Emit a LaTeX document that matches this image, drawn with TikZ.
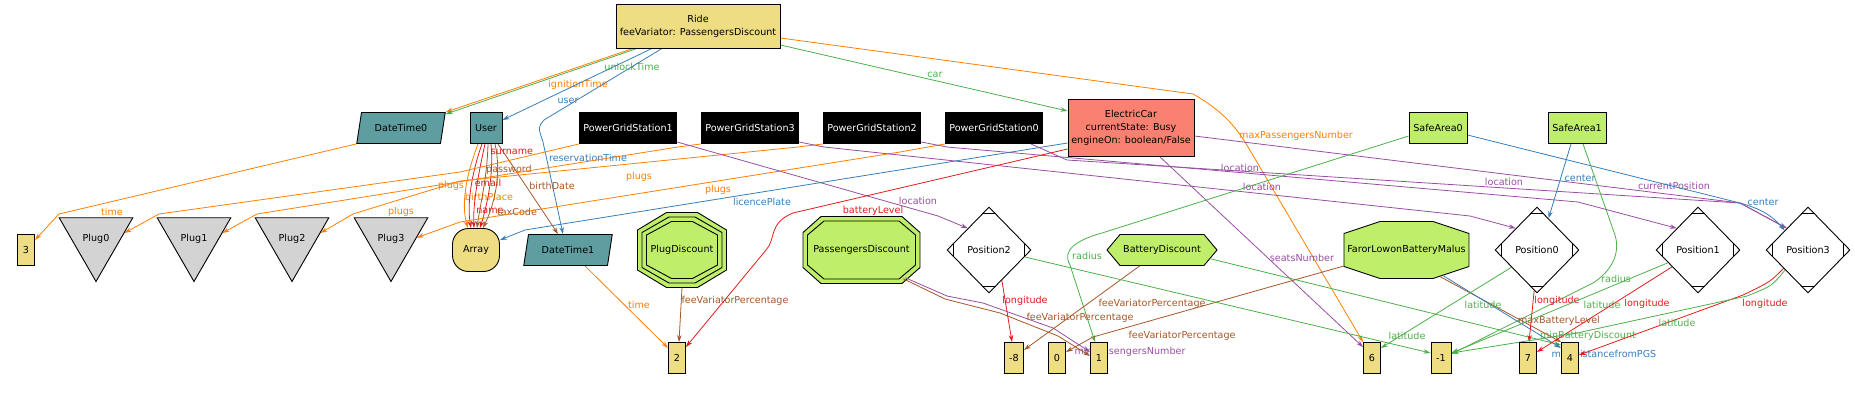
\documentclass[tikz,border=0pt]{standalone}
\usepackage{fontspec}
\setmainfont{DejaVu Sans}
\usetikzlibrary{calc}
\usetikzlibrary{arrows.meta}
\usetikzlibrary{shapes.geometric}
\definecolor{khaki}{HTML}{EEDD82}
\definecolor{cadet}{HTML}{5F9EA0}
\definecolor{salmon}{HTML}{FA8072}
\definecolor{leaf}{HTML}{BFEE6A}
\definecolor{pluggray}{HTML}{D3D3D3}
\definecolor{eorange}{HTML}{FF7F00}
\definecolor{egreen}{HTML}{4DAF4A}
\definecolor{eblue}{HTML}{377EB8}
\definecolor{ered}{HTML}{E41A1C}
\definecolor{epurple}{HTML}{984EA3}
\definecolor{ebrown}{HTML}{A65628}
\pgfdeclarelayer{back}
\pgfdeclarelayer{wires}
\pgfsetlayers{back,wires,main}
\newcommand{\objfont}{\fontsize{9.6}{13}\selectfont}
% style, node, half width, half height, x cut, y cut
\newcommand{\octagon}[6]{%
  \draw[#1, shift={(#2)}] (-#3+#5,-#4) -- (#3-#5,-#4) -- (#3,-#4+#6) -- (#3,#4-#6)
    -- (#3-#5,#4) -- (-#3+#5,#4) -- (-#3,#4-#6) -- (-#3,-#4+#6) -- cycle;}
\newcommand{\mdmarks}[1]{%
  \draw[line width=0.9pt] ($(#1.north)+(-7,7)$) -- ($(#1.north)+(7,7)$);
  \draw[line width=0.9pt] ($(#1.south)+(-7,-7)$) -- ($(#1.south)+(7,-7)$);
  \draw[line width=0.9pt] ($(#1.west)+(7,-7)$) -- ($(#1.west)+(7,7)$);
  \draw[line width=0.9pt] ($(#1.east)+(-7,-7)$) -- ($(#1.east)+(-7,7)$);}
\tikzset{
  obj/.style={draw, line width=0.9pt, inner sep=0pt, minimum height=31pt, font=\objfont},
  val/.style={obj, fill=khaki, minimum width=17pt},
  pgs/.style={obj, fill=black, text=white, minimum width=97pt},
  area/.style={obj, fill=leaf, minimum width=58pt},
  stamp/.style={obj, fill=cadet, trapezium, trapezium left angle=67, trapezium right angle=113,
    trapezium stretches=true, minimum width=89pt},
  plug/.style={obj, fill=pluggray, regular polygon, regular polygon sides=3,
    shape border rotate=180, minimum size=85pt},
  spot/.style={obj, fill=white, diamond, minimum width=84pt, minimum height=86pt},
  disc/.style={inner sep=0pt, font=\objfont},
  wire/.style={line width=0.8pt, -{Stealth[length=7pt,width=4.5pt]}},
  lbl/.style={inner sep=0pt, font=\objfont},
}

\begin{document}
\begin{tikzpicture}[x=1pt, y=-1pt]
  \useasboundingbox (0,0) rectangle (1855,418);

  % top row
  \node[obj, fill=khaki, minimum width=164pt, minimum height=44pt, align=center] (ride) at (698,26) {Ride\\feeVariator: PassengersDiscount};
  \node[stamp] (dt0) at (401,128) {DateTime0};
  \node[obj, fill=cadet, minimum width=32pt] (user) at (486,128) {User};
  \node[pgs] (pgs1) at (628,128) {PowerGridStation1};
  \node[pgs] (pgs3) at (750,128) {PowerGridStation3};
  \node[pgs] (pgs2) at (872,128) {PowerGridStation2};
  \node[pgs] (pgs0) at (994,128) {PowerGridStation0};
  \node[obj, fill=salmon, minimum width=126pt, minimum height=57pt, align=center] (car) at (1131,128) {ElectricCar\\currentState: Busy\\engineOn: boolean/False};
  \node[area] (sa0) at (1438,128) {SafeArea0};
  \node[area] (sa1) at (1577,128) {SafeArea1};

  % middle row
  \node[val] (n3) at (26,250) {3};
  \node[plug] (plug0) at (96,239) {Plug0};
  \node[plug] (plug1) at (194,239) {Plug1};
  \node[plug] (plug2) at (292,239) {Plug2};
  \node[plug] (plug3) at (391,239) {Plug3};
  \node[obj, fill=khaki, rounded corners=16pt, minimum width=47pt, minimum height=43pt] (arr) at (476,250) {Array};
  \node[stamp] (dt1) at (568,250) {DateTime1};
  \node[disc, minimum width=89pt, minimum height=75pt] (pdisc) at (682,250) {PlugDiscount};
  \node[disc, minimum width=117pt, minimum height=67pt] (pgdisc) at (861.5,250) {PassengersDiscount};
  \node[spot] (pos2) at (989,250) {Position2};
  \node[disc, minimum width=110pt, minimum height=31pt] (bdisc) at (1162,250) {BatteryDiscount};
  \node[disc, minimum width=125pt, minimum height=57pt] (malus) at (1406.5,250) {FarorLowonBatteryMalus};
  \node[spot] (pos0) at (1537,250) {Position0};
  \node[spot] (pos1) at (1698,250) {Position1};
  \node[spot] (pos3) at (1808,250) {Position3};
  \mdmarks{pos0}
  \mdmarks{pos1}
  \mdmarks{pos2}
  \mdmarks{pos3}

  % bottom row
  \node[val] (n2) at (677,358) {2};
  \node[val, minimum width=19pt] (nm8) at (1014,358) {-8};
  \node[val] (n0) at (1057,358) {0};
  \node[val] (n1) at (1099,358) {1};
  \node[val] (n6) at (1372,358) {6};
  \node[val, minimum width=20pt] (nm1) at (1441,358) {-1};
  \node[val] (n7) at (1528,358) {7};
  \node[val] (n4) at (1570,358) {4};

  % discount outlines
  \begin{pgfonlayer}{back}
    \octagon{fill=leaf, line width=0.9pt}{pdisc}{44.5}{37.5}{29}{17.5}
    \octagon{line width=0.9pt}{pdisc}{40}{33}{27}{15.5}
    \octagon{line width=0.9pt}{pdisc}{35.5}{28.5}{25}{13.5}
    \octagon{fill=leaf, line width=0.9pt}{pgdisc}{58.5}{33.5}{18}{16}
    \octagon{line width=0.9pt}{pgdisc}{54}{29}{16.5}{14}
    \octagon{fill=leaf, line width=0.9pt}{malus}{62.5}{28.5}{36}{12}
    \draw[fill=leaf, line width=0.9pt, shift={(bdisc)}] (-55,0) -- (-42,-15.5) -- (42,-15.5) -- (55,0) -- (42,15.5) -- (-42,15.5) -- cycle;
  \end{pgfonlayer}

  \begin{pgfonlayer}{wires}
    % Ride
    \draw[wire, eorange] ([xshift=-65pt]ride.south) -- (dt0.top right corner) node[lbl] at (578,85) {ignitionTime};
    \draw[wire, egreen] ([xshift=-61pt]ride.south) -- ([yshift=-2pt]dt0.top right corner) node[lbl] at (632,67) {unlockTime};
    \draw[wire, eblue] ([xshift=-46pt]ride.south) -- ([yshift=8pt]user.east) node[lbl] at (568,101) {user};
    \draw[wire, eblue] ([xshift=-36pt]ride.south) -- (544,120) .. controls (538,127) .. (543,142) -- ([xshift=-5pt]dt1.north) node[lbl] at (588,158) {reservationTime};
    \draw[wire, egreen] ([yshift=-19pt]ride.east) -- ([yshift=17pt]car.west) node[lbl] at (935,75) {car};
    \draw[wire, eorange] ([yshift=-12pt]ride.east) -- (1193,94) .. controls (1225,112) and (1238,130) .. (1248,147) -- (n6.north west) node[lbl] at (1296,136) {maxPassengersNumber};

    % DateTime
    \draw[wire, eorange] (dt0.bottom left corner) -- (59,214) -- ([yshift=10pt]n3.east) node[lbl] at (112,212) {time};
    \draw[wire, eorange] ([xshift=17pt]dt1.south) -- ([yshift=10pt]n2.west) node[lbl] at (639,305) {time};

    % User
    \draw[wire, eorange] ([xshift=-8pt]user.south) .. controls (466,175) and (461,205) .. ([xshift=-8pt]arr.north) node[lbl] at (489,197) {birthPlace};
    \draw[wire, ered] ([xshift=-4pt]user.south) .. controls (471,175) and (467,205) .. ([xshift=-5pt]arr.north) node[lbl] at (512,152) {surname};
    \draw[wire, ered] ([xshift=-1pt]user.south) .. controls (477,180) and (473,205) .. ([xshift=-2pt]arr.north) node[lbl] at (488,183) {email};
    \draw[wire, ebrown] ([xshift=2pt]user.south) .. controls (487,180) and (480,205) .. ([xshift=1pt]arr.north) node[lbl] at (509,170) {password};
    \draw[wire, ered] ([xshift=5pt]user.south) .. controls (494,175) and (487,205) .. ([xshift=4pt]arr.north) node[lbl] at (490,211) {name};
    \draw[wire, ebrown] ([xshift=9pt]user.south) .. controls (502,175) and (494,205) .. ([xshift=7pt]arr.north) node[lbl] at (517,212) {taxCode};
    \draw[wire, ebrown] ([xshift=12pt]user.south) -- ([xshift=-10pt]dt1.north) node[lbl] at (552,186) {birthDate};

    % plugs
    \draw[wire, eorange] (pgs1.south west) -- (460,172) -- (159,214) -- (plug0.12) node[lbl] at (451,186) {plugs};
    \draw[wire, eorange] (pgs3.south west) -- (678,147) -- (257,214) -- (plug1.12) node[lbl] at (639,177) {plugs};
    \draw[wire, eorange] (pgs2.south west) -- (798,147) -- (460,181) -- (353,214) -- (plug2.12) node[lbl] at (718,190) {plugs};
    \draw[wire, eorange] (pgs0.south west) -- (900,152) -- (460,222) -- (plug3.3) node[lbl] at (401,212) {plugs};

    % locations
    \draw[wire, epurple] ([yshift=2pt]pgs1.south east) -- (938,216) -- (pos2.north west) node[lbl] at (918,201) {location};
    \draw[wire, epurple] ([yshift=2pt]pgs3.south east) -- (824,147) -- (1470,216) -- (pos0.north west) node[lbl] at (1262,187) {location};
    \draw[wire, epurple] ([yshift=2pt]pgs2.south east) -- (947,147) -- (1578,202) -- (pos1.north west) node[lbl] at (1504,182) {location};
    \draw[wire, epurple] ([xshift=-12pt]pgs0.south east) -- (1067,160) -- (1740,203) -- (pos3.north west) node[lbl] at (1240,168) {location};

    % ElectricCar
    \draw[wire, epurple] ([yshift=-8pt]car.east) -- (1740,203) -- (pos3.north west) node[lbl] at (1674,186) {currentPosition};
    \draw[wire, epurple] ([xshift=29pt]car.south) -- ([yshift=-5pt]n6.north west) node[lbl] at (1302,258) {seatsNumber};
    \draw[wire, eblue] ([yshift=-15pt]car.west) -- (525,230) -- ([yshift=10pt]arr.east) node[lbl] at (762,202) {licencePlate};
    \draw[wire, ered] ([yshift=-21pt]car.west) -- (793,213) .. controls (768,223) and (776,240) .. (766,250) -- ([yshift=11pt]n2.east) node[lbl] at (873,211) {batteryLevel};

    % SafeArea
    \draw[wire, egreen] ([yshift=-8pt]sa0.west) -- (1102,233) .. controls (1062,244) and (1066,258) .. (1070,265) -- ([xshift=-4pt]n1.north) node[lbl] at (1087,256) {radius};
    \draw[wire, eblue] ([yshift=-7pt]sa0.east) -- (1740,203) .. controls (1765,210) and (1774,218) .. (pos3.140) node[lbl] at (1763,202) {center};
    \draw[wire, eblue] ([xshift=-6pt]sa1.south) -- (pos0.70) node[lbl] at (1580,178) {center};
    \draw[wire, egreen] ([xshift=6pt]sa1.south) -- (1615,235) .. controls (1621,255) and (1610,272) .. (1593,283) -- ([yshift=4pt]nm1.east) node[lbl] at (1616,279) {radius};

    % discounts
    \draw[wire, ebrown] (pdisc.south) -- ([xshift=2pt]n2.north) node[lbl] at (735,301) {feeVariatorPercentage};
    \draw[wire, epurple] ([xshift=-15pt,yshift=6pt]pgdisc.south east) -- (947,296) -- (983,303) -- (1053,328) -- ([yshift=6pt]n1.west) node[lbl] at (1130,352) {minPassengersNumber};
    \draw[wire, ebrown] ([xshift=-17pt,yshift=5pt]pgdisc.south east) -- (945,299) -- (1000,313) -- (1058,336) -- ([yshift=2pt]n1.west) node[lbl] at (1182,336) {feeVariatorPercentage};
    \draw[wire, ebrown] ([xshift=-22pt]bdisc.south) -- ([yshift=8pt]nm8.east) node[lbl] at (1152,304) {feeVariatorPercentage};
    \draw[wire, egreen] ([xshift=-7pt,yshift=7pt]bdisc.south east) -- ([yshift=-3pt]n4.north west) node[lbl] at (1588,336) {minBatteryDiscount};
    \draw[wire, ebrown] ([yshift=-16pt]malus.west) -- (1093,337) -- ([yshift=6pt]n0.east) node[lbl] at (1080,318) {feeVariatorPercentage};
    \draw[wire, ebrown] ([xshift=-29pt,yshift=2pt]malus.south east) -- (n4.north west) node[lbl] at (1559,321) {maxBatteryLevel};
    \draw[wire, eblue] ([xshift=-26pt,yshift=3pt]malus.south east) -- ([yshift=-6pt]n4.north west) node[lbl] at (1604,354) {maxDistancefromPGS};

    % positions
    \draw[wire, egreen] (pos2.-11) -- ([yshift=5pt]nm1.west) node[lbl] at (1407,336) {latitude};
    \draw[wire, ered] (pos2.-67) -- ([xshift=-2pt]nm8.north) node[lbl] at (1025,301) {longitude};
    \draw[wire, egreen] (pos0.214) -- ([yshift=10pt]n6.east) node[lbl] at (1483,305) {latitude};
    \draw[wire, ered] (pos0.266) -- ([xshift=1pt]n7.north) node[lbl] at (1557,301) {longitude};
    \draw[wire, egreen] (pos1.203) -- ([yshift=5pt]nm1.east) node[lbl] at (1602,305) {latitude};
    \draw[wire, ered] (pos1.213) -- ([yshift=6pt]n7.east) node[lbl] at (1647,304) {longitude};
    \draw[wire, ered] (pos3.217) .. controls (1770,282) .. (1743,295) -- ([yshift=3pt]n4.east) node[lbl] at (1765,304) {longitude};
    \draw[wire, egreen] (pos3.221) .. controls (1772,286) .. (1747,296) -- (1577,333) -- ([yshift=5pt]nm1.east) node[lbl] at (1677,323) {latitude};
  \end{pgfonlayer}
\end{tikzpicture}
\end{document}
